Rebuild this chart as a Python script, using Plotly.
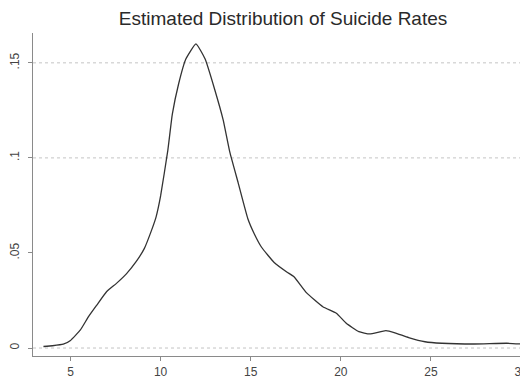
import plotly.graph_objects as go

# Estimated density curve
rate = [3.5, 4.0, 4.6, 5.0, 5.55, 6.0, 6.46, 7.0, 7.55, 8.1, 8.64, 9.1, 9.5, 9.75,
        10.0, 10.4, 10.65, 11.0, 11.4, 11.96, 12.47, 13.0, 13.47, 13.84, 14.3,
        14.84, 15.2, 15.6, 16.3, 17.0, 17.4, 18.1, 19.0, 19.75, 20.3, 21.0, 21.6,
        22.5, 23.0, 23.76, 24.67, 25.6, 27.4, 29.2, 30.0]
density = [0.0008, 0.0012, 0.002, 0.004, 0.0095, 0.0165, 0.0226, 0.0296, 0.034,
           0.039, 0.0454, 0.0524, 0.062, 0.069, 0.080, 0.104, 0.123, 0.139, 0.152,
           0.160, 0.152, 0.136, 0.120, 0.103, 0.087, 0.068, 0.060, 0.053, 0.045,
           0.040, 0.0375, 0.029, 0.0217, 0.0183, 0.013, 0.0086, 0.0074, 0.0091,
           0.0080, 0.0055, 0.0033, 0.0025, 0.0021, 0.0025, 0.0021]

x_ticks = [5, 10, 15, 20, 25, 30]
x_tick_labels = ["5", "10", "15", "20", "25", "30"]
y_ticks = [0, 0.05, 0.1, 0.15]
y_tick_labels = ["0", ".05", ".1", ".15"]
grid_levels = [0, 0.1, 0.15]

fig = go.Figure()
fig.add_trace(go.Scatter(
    x=rate, y=density, mode="lines",
    line=dict(color="#333333", width=1.3, shape="spline", smoothing=0.4),
    showlegend=False, hoverinfo="skip",
))

for g in grid_levels:
    fig.add_shape(type="line", xref="paper", x0=0, x1=1, yref="y", y0=g, y1=g,
                  line=dict(color="#c4c4c4", width=1, dash="dot"), layer="below")

# the page body has an 8px margin, so the figure is 8px smaller than the window
fig.update_layout(
    width=520, height=371,
    margin=dict(l=24, r=0, t=25, b=23),
    paper_bgcolor="white", plot_bgcolor="white",
    title=dict(text="Estimated Distribution of Suicide Rates",
               x=0.529, xanchor="center", y=0.973, yanchor="middle",
               font=dict(family="Liberation Sans, Arial, sans-serif", size=19, color="#2a2a2a")),
    font=dict(family="Liberation Sans, Arial, sans-serif", size=12, color="#444444"),
)
fig.update_xaxes(
    range=[2.92, 30.05], tickmode="array", tickvals=x_ticks, ticktext=x_tick_labels,
    showgrid=False, zeroline=False, showline=True, linecolor="#8a8a8a", linewidth=1,
    ticks="outside", ticklen=4, tickcolor="#8a8a8a", ticklabelstandoff=1,
    ticklabeloverflow="allow",
)
fig.update_yaxes(
    range=[-0.0042, 0.1657], tickmode="array", tickvals=y_ticks, ticktext=y_tick_labels,
    showgrid=False, zeroline=False, showline=True, linecolor="#8a8a8a", linewidth=1,
    ticks="outside", ticklen=4, tickcolor="#8a8a8a", tickangle=-90, ticklabelstandoff=4,
)

fig.write_html("out.html")
